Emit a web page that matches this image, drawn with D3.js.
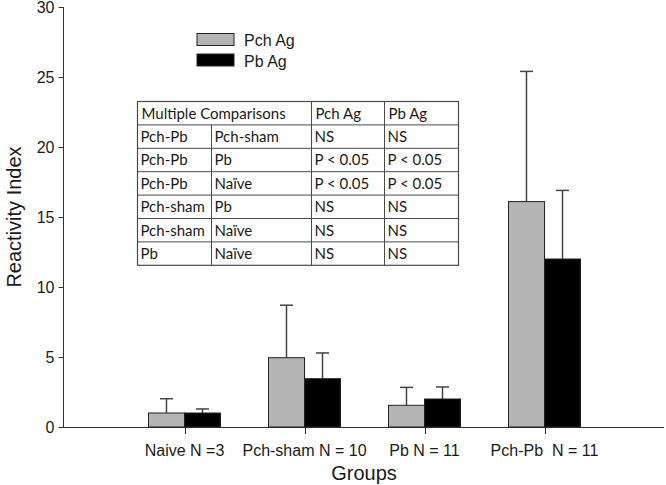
<!DOCTYPE html>
<html>
<head>
<meta charset="utf-8">
<script src="https://cdn.jsdelivr.net/npm/d3@7"></script>
<style>
  html, body { margin: 0; padding: 0; background: #fff; }
  svg { display: block; }
  text { font-family: "Liberation Sans", Arial, sans-serif; fill: #1a1a1a; }
  .tbl text { font-family: Lato, "Open Sans", sans-serif; }
</style>
</head>
<body>
<svg id="chart" width="666" height="485"></svg>
<script>
const groups = ["Naive N =3", "Pch-sham N = 10", "Pb N = 11", "Pch-Pb  N = 11"];
const seriesNames = ["Pch Ag", "Pb Ag"];
const pchAg = [1.0, 4.95, 1.55, 16.1];
const pchAgErr = [1.02, 3.75, 1.28, 9.3];
const pbAg = [1.0, 3.45, 2.0, 12.0];
const pbAgErr = [0.29, 1.84, 0.86, 4.9];
const yTicks = [0, 5, 10, 15, 20, 25, 30];

const tableHeader = ["Multiple Comparisons", "Pch Ag", "Pb Ag"];
const tableRows = [
  ["Pch-Pb", "Pch-sham", "NS", "NS"],
  ["Pch-Pb", "Pb", "P < 0.05", "P < 0.05"],
  ["Pch-Pb", "Naïve", "P < 0.05", "P < 0.05"],
  ["Pch-sham", "Pb", "NS", "NS"],
  ["Pch-sham", "Naïve", "NS", "NS"],
  ["Pb", "Naïve", "NS", "NS"]
];

const svg = d3.select("#chart");
const axisColor = "#333";
const y = d3.scaleLinear().domain([0, 30]).range([427, 7]);
const x = d3.scaleLinear().domain([-1, 4]).range([64.5, 664.5]);
const barW = 36;

// Y axis
const yAxis = d3.axisLeft(y).tickValues(yTicks).tickSize(5).tickPadding(4);
const gy = svg.append("g").attr("transform", "translate(63.5,0)").call(yAxis);
gy.select(".domain").attr("stroke", axisColor).attr("d", `M0,${y(30)}V${y(0)}`);
gy.selectAll(".tick line").attr("stroke", axisColor);
gy.selectAll(".tick text").attr("font-size", 16).attr("fill", "#1a1a1a")
  .style("font-family", "'Liberation Sans', Arial, sans-serif");

// X axis
svg.append("line").attr("x1", 63).attr("x2", 664).attr("y1", y(0) + 0.5).attr("y2", y(0) + 0.5)
  .attr("stroke", axisColor).attr("stroke-width", 1);
const gx = svg.append("g");
groups.forEach((g, i) => {
  const cx = Math.round(x(i)) + 0.5;
  gx.append("line").attr("x1", cx).attr("x2", cx).attr("y1", y(0)).attr("y2", y(0) + 7)
    .attr("stroke", axisColor);
  gx.append("text").attr("x", x(i)).attr("y", 456).attr("text-anchor", "middle")
    .attr("font-size", 16).attr("xml:space", "preserve").style("white-space", "pre").text(g);
});

// Axis titles
svg.append("text").attr("x", 364).attr("y", 480).attr("text-anchor", "middle")
  .attr("font-size", 20).text("Groups");
svg.append("text").attr("transform", `translate(21,${y(15)}) rotate(-90)`)
  .attr("text-anchor", "middle").attr("font-size", 20).text("Reactivity Index");

// Bars
const series = [
  { vals: pchAg, err: pchAgErr, fill: "#b4b4b4", off: -barW },
  { vals: pbAg, err: pbAgErr, fill: "#000000", off: 0 }
];
series.forEach(s => {
  const g = svg.append("g");
  s.vals.forEach((v, i) => {
    const x0 = x(i) + s.off;
    const ex = x0 + barW / 2;
    g.append("line").attr("x1", ex).attr("x2", ex).attr("y1", y(v)).attr("y2", y(v + s.err[i]))
      .attr("stroke", "#444").attr("stroke-width", 1.5);
    g.append("line").attr("x1", ex - 6.5).attr("x2", ex + 6.5)
      .attr("y1", y(v + s.err[i])).attr("y2", y(v + s.err[i]))
      .attr("stroke", "#444").attr("stroke-width", 1.5);
    g.append("rect").attr("x", x0).attr("y", y(v)).attr("width", barW).attr("height", y(0) - y(v))
      .attr("fill", s.fill).attr("stroke", "#222").attr("stroke-width", 1);
  });
});

// Legend
const leg = svg.append("g");
seriesNames.forEach((n, i) => {
  leg.append("rect").attr("x", 197).attr("y", 33.5 + i * 20.5).attr("width", 37).attr("height", 12)
    .attr("fill", series[i].fill).attr("stroke", "#222").attr("stroke-width", 1);
  leg.append("text").attr("x", 244).attr("y", 46 + i * 20.5).attr("font-size", 16).text(n);
});

// Table
const tbl = svg.append("g").attr("class", "tbl");
const colX = [137.5, 211.5, 311.5, 384.5, 458.5];
const tTop = 101.5, rowH = 23.4;
const nRows = tableRows.length + 1;
const lc = "#4a4a4a";
tbl.append("rect").attr("x", colX[0]).attr("y", tTop).attr("width", colX[4] - colX[0])
  .attr("height", rowH * nRows).attr("fill", "#fff").attr("stroke", lc).attr("stroke-width", 1.2);
for (let r = 1; r < nRows; r++) {
  tbl.append("line").attr("x1", colX[0]).attr("x2", colX[4])
    .attr("y1", tTop + r * rowH).attr("y2", tTop + r * rowH).attr("stroke", lc);
}
[2, 3].forEach(c => tbl.append("line").attr("x1", colX[c]).attr("x2", colX[c])
  .attr("y1", tTop).attr("y2", tTop + rowH * nRows).attr("stroke", lc));
tbl.append("line").attr("x1", colX[1]).attr("x2", colX[1])
  .attr("y1", tTop + rowH).attr("y2", tTop + rowH * nRows).attr("stroke", lc);
const fs = 15;
[[tableHeader[0], 0], [tableHeader[1], 2], [tableHeader[2], 3]].forEach(([t, c]) => {
  tbl.append("text").attr("x", colX[c] + 4).attr("y", tTop + 17).attr("font-size", fs).text(t);
});
tableRows.forEach((row, r) => {
  row.forEach((t, c) => {
    tbl.append("text").attr("x", colX[c] + 3).attr("y", tTop + (r + 1) * rowH + 17)
      .attr("font-size", fs).text(t);
  });
});
</script>
</body>
</html>
